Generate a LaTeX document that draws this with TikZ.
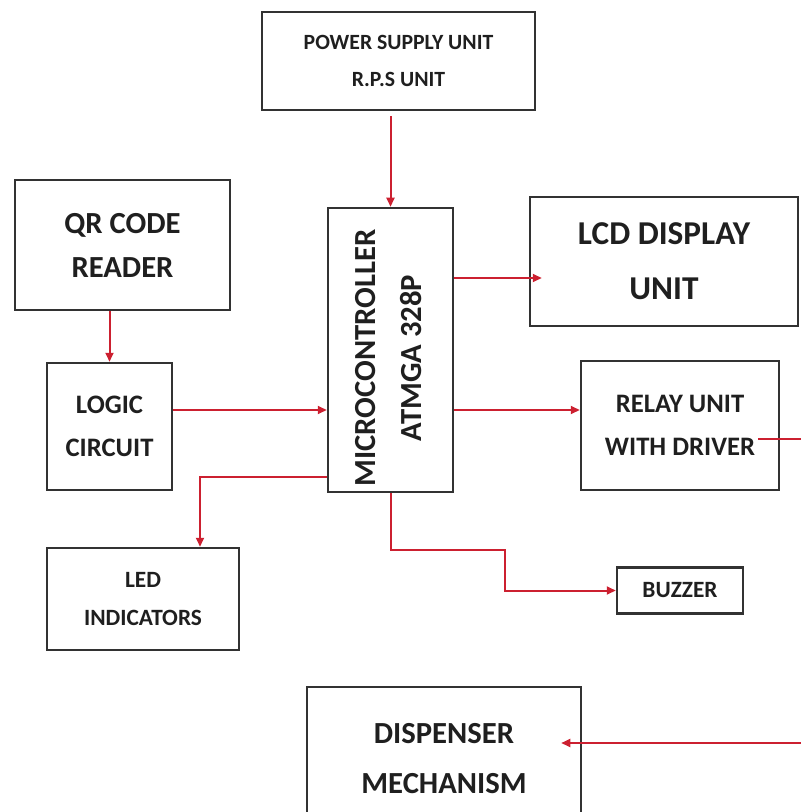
\documentclass[tikz,border=0pt]{standalone}
\usepackage{fontspec}
\setmainfont{Carlito}
\usetikzlibrary{arrows.meta,calc}
\newdimen\px \px=0.75pt
\definecolor{linkred}{RGB}{204,32,48}
\definecolor{boxgray}{RGB}{50,50,50}
\newcommand{\boxfont}[2]{\fontsize{#1}{#2}\selectfont\bfseries}
\tikzset{
  box/.style={draw=boxgray, line width=2.5\px, inner sep=0pt, align=center, text=black!88},
  link/.style={linkred, line width=1.5pt, -{Triangle[length=6.75pt,width=6pt]}},
}
\begin{document}
\begin{tikzpicture}[x=0.75pt, y=-0.75pt]
    \useasboundingbox (0,0) rectangle (800,812);
    % Blocks
    \node[box, minimum width=273\px, minimum height=98\px, font=\boxfont{16.3}{28}] (pwr) at (398.5,61) {POWER SUPPLY UNIT\\R.P.S UNIT};
    \node[box, minimum width=215\px, minimum height=130\px, font=\boxfont{23}{33}] (qr) at (122.5,245) {QR CODE\\READER};
    \node[box, minimum width=125\px, minimum height=284\px] (mcu) at (390.5,350) {};
    \node[font=\boxfont{23}{35}, align=center, rotate=90, text=black!88] (mcutxt) at ($(mcu.center)+(-2,8)$) {MICROCONTROLLER\\ATMGA 328P};
    \node[box, minimum width=268\px, minimum height=129\px, font=\boxfont{25}{41}] (lcd) at (664,261.5) {LCD DISPLAY\\UNIT};
    \node[box, minimum width=125\px, minimum height=127\px, font=\boxfont{20}{32}] (logic) at (109.5,426.5) {LOGIC\\CIRCUIT};
    \node[box, minimum width=198\px, minimum height=129\px, font=\boxfont{20}{32}] (relay) at (680,425.5) {RELAY UNIT\\WITH DRIVER};
    \node[box, minimum width=192\px, minimum height=102\px, font=\boxfont{17.5}{29}] (led) at (143,599) {LED\\INDICATORS};
    \node[box, minimum width=126\px, minimum height=46\px, font=\boxfont{17.5}{29}] (buzz) at (680,590.5) {BUZZER};
    \node[box, minimum width=274\px, minimum height=143\px, font=\boxfont{23}{37.5}] (disp) at (444,758.5) {DISPENSER\\MECHANISM};
    % Connectors
    \coordinate (row) at (0,410);
    \draw[link] ($(mcu.north |- pwr.south)+(0,5)$) -- (mcu.north);
    \draw[link] (logic.north |- qr.south) -- (logic.north);
    \draw[link] (logic.east |- row) -- (mcu.west |- row);
    \draw[link] (mcu.east |- row) -- (relay.west |- row);
    \draw[link] ($(mcu.east)+(0,-72)$) -- ($(lcd.west)+(13,16.5)$);
    \draw[link] ($(mcu.west)+(0,127)$) -| ($(led.north)+(57,0)$);
    \draw[link] (mcu.south) |- ++(114,57) |- (buzz.west);
    \draw[link] ($(relay.east)+(-22,13.5)$) -- ++(70,0) |- ($(disp.east)+(-21,-15.5)$);
\end{tikzpicture}
\end{document}
